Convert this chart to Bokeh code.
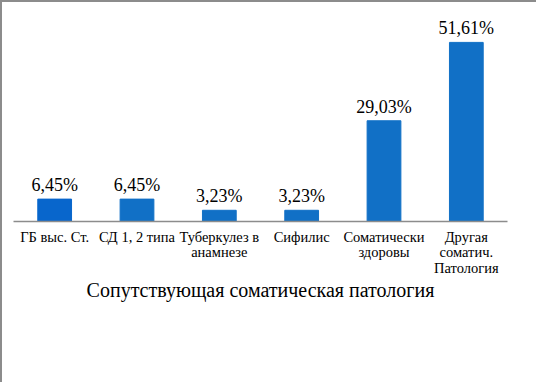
from bokeh.plotting import figure
from bokeh.models import ColumnDataSource, Range1d
from bokeh.core.properties import value
from bokeh.embed import file_html
from bokeh.resources import INLINE

categories = ["ГБ выс. Ст.", "СД 1, 2 типа", "Туберкулез в\nанамнезе", "Сифилис",
              "Соматически\nздоровы", "Другая\nсоматич.\nПатология"]
values = [6.45, 6.45, 3.23, 3.23, 29.03, 51.61]
labels = ["6,45%", "6,45%", "3,23%", "3,23%", "29,03%", "51,61%"]
bar_colors = ["#0866CC", "#1170C6", "#1170C6", "#1170C6", "#1170C6", "#1170C6"]
axis_title = "Сопутствующая соматическая патология"

SERIF = "'Liberation Serif'"

src = ColumnDataSource(dict(cat=categories, val=values, lab=labels, col=bar_colors))

p = figure(x_range=categories, y_range=Range1d(0, 60.8), width=536, height=382,
           output_backend="svg", toolbar_location=None,
           min_border_left=11, min_border_right=31, min_border_top=8, min_border_bottom=163)
p.styles = {"border-left": "2px solid #8c8c8c", "border-top": "2px solid #8c8c8c"}
p.x_range.range_padding = 0
p.vbar(x="cat", top="val", width=0.41, source=src, color="col")
p.text(x="cat", y="val", text="lab", source=src, text_align="center", text_baseline="bottom",
       y_offset=-4, text_font=value(SERIF), text_font_size="18px", text_color="#000000")

p.yaxis.visible = False
p.grid.visible = False
p.outline_line_color = None
ax = p.xaxis[0]
ax.axis_line_color = "#8c8c8c"
ax.axis_line_width = 1.5
ax.major_tick_line_color = None
ax.minor_tick_line_color = None
ax.major_label_text_font = "serif"
ax.major_label_text_font_size = "14.5px"
ax.major_label_text_line_height = 0.98
ax.major_label_text_color = "#000000"
ax.major_label_standoff = 1
ax.axis_label = axis_title
ax.axis_label_text_font = "serif"
ax.axis_label_text_font_size = "20px"
ax.axis_label_text_font_style = "normal"
ax.axis_label_text_color = "#000000"
ax.axis_label_standoff = 0

open("out.html", "w").write(file_html(p, INLINE))
